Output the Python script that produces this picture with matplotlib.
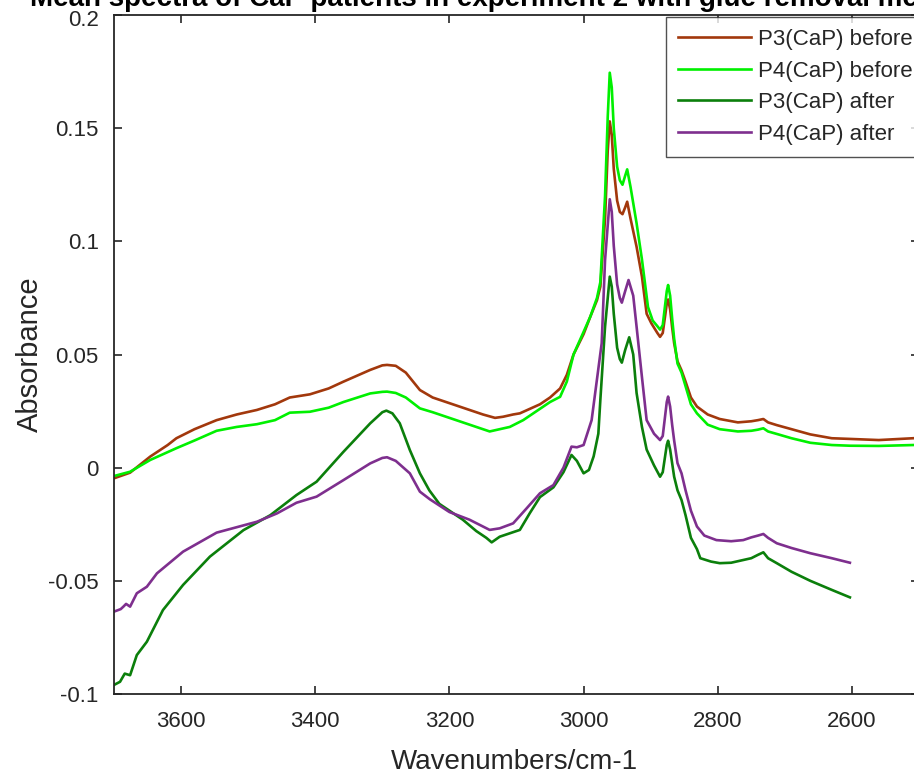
import matplotlib
matplotlib.use("Agg")
import matplotlib.pyplot as plt
from matplotlib.transforms import ScaledTranslation

plt.rcParams['font.family'] = ['Liberation Sans', 'DejaVu Sans']

# P3(CaP) before
p3b_wn = [3700, 3676, 3646, 3620, 3607, 3580, 3547, 3517, 3487, 3460, 3438, 3408, 3380, 3358,
          3318, 3300, 3293, 3280, 3265, 3244, 3225, 3200, 3170, 3150, 3132, 3120, 3105, 3095,
          3080, 3065, 3050, 3035, 3025, 3015, 3000, 2990, 2980, 2975, 2968, 2964, 2961, 2958,
          2955, 2950, 2946, 2942, 2938, 2935, 2930, 2921, 2913, 2906, 2899, 2890, 2886, 2882,
          2878, 2876, 2874, 2871, 2868, 2865, 2860, 2854, 2848, 2840, 2831, 2815, 2797, 2770,
          2750, 2740, 2732, 2725, 2712, 2690, 2662, 2630, 2603, 2560, 2509]
p3b_abs = [-0.0047, -0.0022, 0.0049, 0.010, 0.013, 0.017, 0.021, 0.0235, 0.0255, 0.028, 0.031,
           0.0324, 0.035, 0.038, 0.0432, 0.0452, 0.0454, 0.0450, 0.042, 0.0343, 0.031, 0.0285,
           0.0255, 0.0235, 0.022, 0.0225, 0.0235, 0.024, 0.026, 0.028, 0.031, 0.035, 0.041,
           0.050, 0.059, 0.0667, 0.074, 0.080, 0.110, 0.140, 0.153, 0.147, 0.132, 0.118, 0.113,
           0.112, 0.115, 0.1175, 0.110, 0.0976, 0.0844, 0.068, 0.0638, 0.0595, 0.0578, 0.0595,
           0.068, 0.0725, 0.0743, 0.070, 0.062, 0.055, 0.047, 0.043, 0.038, 0.031, 0.027, 0.0235,
           0.0215, 0.020, 0.0205, 0.021, 0.0215, 0.020, 0.0188, 0.017, 0.0147, 0.013, 0.0127,
           0.0122, 0.013]

# P4(CaP) before
p4b_wn = [3700, 3676, 3646, 3607, 3580, 3547, 3517, 3487, 3460, 3438, 3408, 3380, 3358, 3318,
          3300, 3293, 3280, 3265, 3244, 3225, 3200, 3170, 3140, 3125, 3110, 3090, 3065, 3050,
          3035, 3025, 3015, 3000, 2990, 2980, 2975, 2968, 2964, 2961, 2958, 2955, 2950, 2946,
          2942, 2938, 2935, 2930, 2921, 2913, 2904, 2897, 2890, 2886, 2882, 2878, 2876, 2874,
          2871, 2868, 2865, 2860, 2854, 2848, 2840, 2831, 2815, 2797, 2770, 2750, 2740, 2732,
          2725, 2712, 2690, 2662, 2630, 2603, 2560, 2509]
p4b_abs = [-0.0037, -0.0018, 0.0034, 0.0086, 0.012, 0.0163, 0.018, 0.0192, 0.021, 0.0243, 0.0247,
           0.0265, 0.029, 0.0328, 0.0335, 0.0336, 0.033, 0.031, 0.0262, 0.0245, 0.022, 0.019,
           0.016, 0.017, 0.018, 0.021, 0.026, 0.029, 0.0313, 0.038, 0.050, 0.060, 0.0667, 0.075,
           0.082, 0.120, 0.155, 0.1745, 0.168, 0.150, 0.133, 0.127, 0.125, 0.129, 0.1318, 0.124,
           0.108, 0.092, 0.071, 0.065, 0.0625, 0.061, 0.063, 0.073, 0.078, 0.0807, 0.076, 0.066,
           0.057, 0.046, 0.042, 0.036, 0.028, 0.024, 0.019, 0.017, 0.016, 0.0163, 0.0168, 0.0174,
           0.016, 0.0149, 0.013, 0.011, 0.010, 0.0097, 0.0096, 0.010]

# P3(CaP) after
p3a_wn = [3700, 3691, 3684, 3676, 3666, 3651, 3627, 3597, 3557, 3507, 3467, 3428, 3398, 3358,
          3318, 3300, 3294, 3285, 3274, 3259, 3244, 3230, 3215, 3200, 3180, 3160, 3145, 3137,
          3125, 3110, 3095, 3080, 3065, 3045, 3030, 3018, 3010, 3000, 2992, 2985, 2978, 2975,
          2968, 2961, 2958, 2955, 2950, 2946, 2943, 2938, 2932, 2926, 2921, 2913, 2906, 2895,
          2886, 2882, 2878, 2876, 2874, 2871, 2868, 2865, 2860, 2854, 2848, 2840, 2831, 2826,
          2810, 2797, 2780, 2762, 2750, 2740, 2732, 2725, 2712, 2690, 2662, 2630, 2603]
p3a_abs = [-0.096, -0.0946, -0.091, -0.0917, -0.0828, -0.0769, -0.0629, -0.0518, -0.0393, -0.0276,
           -0.021, -0.0121, -0.0062, 0.007, 0.0196, 0.0245, 0.0252, 0.024, 0.0196, 0.0078,
           -0.0025, -0.010, -0.016, -0.019, -0.023, -0.028, -0.031, -0.033, -0.0305, -0.029,
           -0.0275, -0.020, -0.013, -0.0087, -0.002, 0.0056, 0.003, -0.0025, -0.001, 0.005,
           0.015, 0.030, 0.0623, 0.0844, 0.080, 0.068, 0.053, 0.048, 0.0464, 0.052, 0.0576,
           0.050, 0.033, 0.018, 0.008, 0.001, -0.004, -0.002, 0.006, 0.010, 0.0119, 0.008,
           0.002, -0.004, -0.010, -0.0143, -0.021, -0.031, -0.036, -0.040, -0.0415, -0.0422,
           -0.042, -0.0408, -0.040, -0.0385, -0.0374, -0.040, -0.0422, -0.046, -0.050, -0.054,
           -0.0573]

# P4(CaP) after
p4a_wn = [3700, 3690, 3686, 3682, 3676, 3666, 3651, 3636, 3597, 3547, 3487, 3457, 3428, 3398,
          3358, 3318, 3300, 3293, 3280, 3259, 3244, 3229, 3200, 3170, 3140, 3125, 3105, 3085,
          3065, 3045, 3030, 3018, 3010, 3000, 2988, 2973, 2968, 2961, 2958, 2955, 2950, 2946,
          2943, 2938, 2933, 2926, 2921, 2913, 2906, 2895, 2886, 2882, 2878, 2876, 2874, 2871,
          2868, 2865, 2860, 2854, 2848, 2840, 2831, 2820, 2802, 2780, 2762, 2750, 2740, 2732,
          2725, 2712, 2690, 2662, 2630, 2603]
p4a_abs = [-0.0636, -0.0625, -0.0614, -0.0602, -0.0614, -0.0555, -0.0526, -0.0467, -0.0371,
           -0.0287, -0.0239, -0.0202, -0.0155, -0.0128, -0.0055, 0.0019, 0.0043, 0.0046, 0.003,
           -0.0025, -0.0106, -0.014, -0.0196, -0.023, -0.0275, -0.0268, -0.0246, -0.018, -0.0113,
           -0.0077, 0.000, 0.0093, 0.009, 0.010, 0.021, 0.055, 0.0917, 0.1186, 0.113, 0.098,
           0.081, 0.075, 0.0729, 0.078, 0.0829, 0.076, 0.0623, 0.040, 0.021, 0.015, 0.0122,
           0.014, 0.024, 0.029, 0.0314, 0.027, 0.019, 0.012, 0.002, -0.0025, -0.010, -0.019,
           -0.026, -0.030, -0.032, -0.0325, -0.032, -0.0308, -0.030, -0.0293, -0.031, -0.0334,
           -0.0355, -0.0378, -0.040, -0.042]

series_labels = ['P3(CaP) before', 'P4(CaP) before', 'P3(CaP) after', 'P4(CaP) after']
series_colors = ['#A2380C', '#00F000', '#0B7F0B', '#7E2F8E']

x_ticks = [3600, 3400, 3200, 3000, 2800, 2600]
y_ticks = [-0.1, -0.05, 0, 0.05, 0.1, 0.15, 0.2]
y_tick_labels = ['-0.1', '-0.05', '0', '0.05', '0.1', '0.15', '0.2']

title_text = 'Mean spectra of CaP patients in experiment 2 with glue removal method'

fig = plt.figure(figsize=(9.14, 7.78), dpi=100)
ax = fig.add_axes([114 / 914, 1 - 694 / 778, 805 / 914, 679 / 778])

data = [(p3b_wn, p3b_abs), (p4b_wn, p4b_abs), (p3a_wn, p3a_abs), (p4a_wn, p4a_abs)]
for (wn, ab), lab, col in zip(data, series_labels, series_colors):
    ax.plot(wn, ab, color=col, lw=1.9, label=lab, solid_joinstyle='round')

ax.set_xlim(3700, 2500)
ax.set_ylim(-0.1, 0.2)
ax.set_xticks(x_ticks)
ax.set_xticklabels([str(t) for t in x_ticks])
ax.set_yticks(y_ticks)
ax.set_yticklabels(y_tick_labels)

tick_col = '#262626'
ax.tick_params(direction='in', length=6, width=1.2, colors=tick_col, labelsize=16,
               top=True, right=True)
ax.tick_params(axis='x', pad=12)
ax.tick_params(axis='y', pad=11)
for sp in ax.spines.values():
    sp.set_color(tick_col)
    sp.set_linewidth(1.3)

# nudge the topmost y label down so it clears the title
top_label = ax.yaxis.get_major_ticks()[-1].label1
top_label.set_transform(top_label.get_transform()
                        + ScaledTranslation(0, -3 / 100, fig.dpi_scale_trans))

ax.set_xlabel('Wavenumbers/cm-1', fontsize=20, color=tick_col, va='center')
ax.set_ylabel('Absorbance', fontsize=21, color=tick_col, va='center')
ax.xaxis.set_label_coords((514 - 114) / 805, (694 - 762) / 679)
ax.yaxis.set_label_coords((30 - 114) / 805, 0.5)

fig.text(30 / 914, 1 - 6 / 778, title_text, ha='left', va='baseline',
         fontsize=20, fontweight='bold', color='black')

leg = ax.legend(loc='upper right', bbox_to_anchor=(1 + 6 / 805, 1 - 2 / 679),
                fontsize=16, frameon=True, fancybox=False,
                edgecolor=tick_col, handlelength=3.3, handletextpad=0.3,
                borderaxespad=0.0, labelspacing=0.47, borderpad=0.55)
leg.get_frame().set_linewidth(1.0)
for t in leg.get_texts():
    t.set_color(tick_col)

fig.savefig('out.png', dpi=100)
